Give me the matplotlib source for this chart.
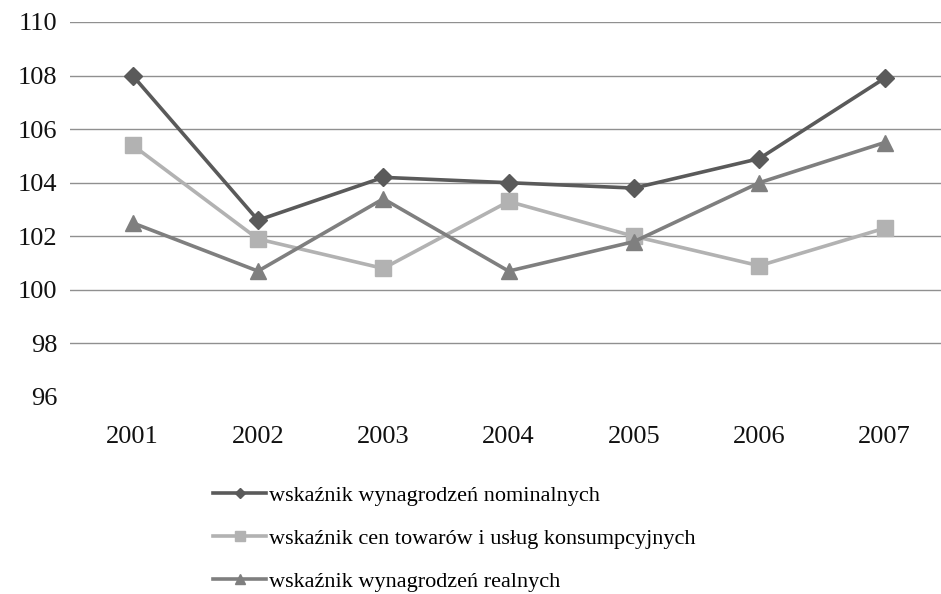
import matplotlib
matplotlib.use("Agg")
import matplotlib.pyplot as plt
from matplotlib.lines import Line2D

years = ["2001", "2002", "2003", "2004", "2005", "2006", "2007"]
nominal = [108.0, 102.6, 104.2, 104.0, 103.8, 104.9, 107.9]
cpi = [105.4, 101.9, 100.8, 103.3, 102.0, 100.9, 102.3]
real = [102.5, 100.7, 103.4, 100.7, 101.8, 104.0, 105.5]
labels = [
    "wskaźnik wynagrodzeń nominalnych",
    "wskaźnik cen towarów i usług konsumpcyjnych",
    "wskaźnik wynagrodzeń realnych",
]
yticks = [96, 98, 100, 102, 104, 106, 108, 110]

plt.rcParams["font.family"] = ["Liberation Serif", "DejaVu Serif"]

fig = plt.figure(figsize=(9.41, 5.94), dpi=100)
ax = fig.add_axes([70 / 941, 1 - 397 / 594, 1 - 70 / 941, (397 - 22) / 594])

x = range(len(years))
styles = [
    (nominal, "#5a5a5a", "D", 9),
    (cpi, "#b2b2b2", "s", 12),
    (real, "#7f7f7f", "^", 12),
]
handles = []
for (vals, col, mk, ms), lab in zip(styles, labels):
    ax.plot(x, vals, color=col, lw=2.6, marker=mk, ms=ms, zorder=3)
    handles.append(Line2D([], [], color=col, lw=2.6, marker=mk, ms=ms * 0.6, label=lab))

for t in yticks[1:]:
    ax.axhline(t, color="#909090", lw=1, zorder=1)

ax.set_ylim(96, 110)
ax.set_xlim(-0.5, 6.45)
ax.set_yticks(yticks)
ax.set_xticks(list(x))
ax.set_xticklabels(years)
ax.tick_params(axis="both", length=0, labelsize=19, labelcolor="#111111")
ax.tick_params(axis="x", pad=21)
ax.tick_params(axis="y", pad=9)
for s in ax.spines.values():
    s.set_visible(False)

fig.legend(handles=handles, loc="upper left", bbox_to_anchor=(213 / 941, 1 - 485 / 594),
           frameon=False, fontsize=16, handlelength=2.4, handletextpad=0.1,
           labelspacing=1.02, borderpad=0, borderaxespad=0)

fig.savefig("out.png", dpi=100)
